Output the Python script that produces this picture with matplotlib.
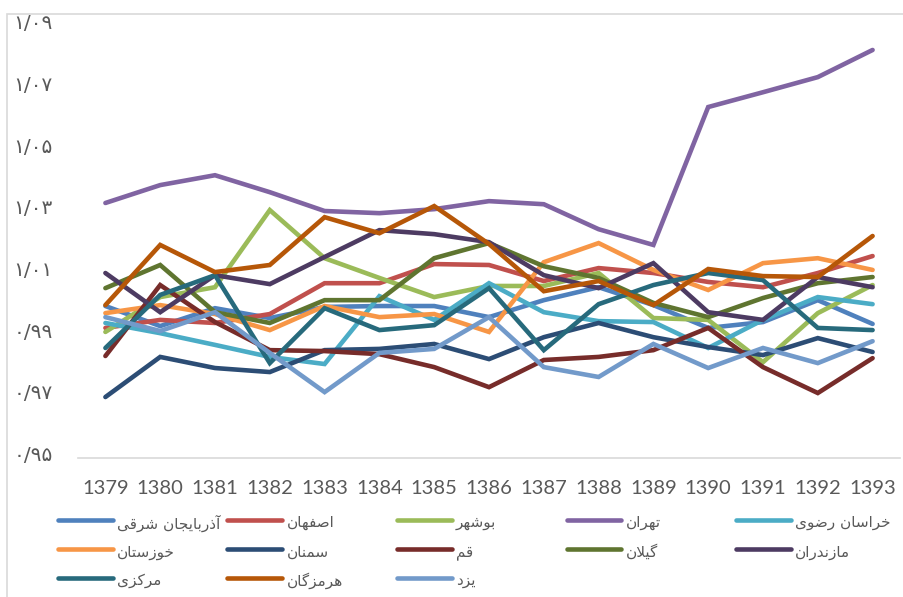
import matplotlib
matplotlib.use("Agg")
import matplotlib.pyplot as plt
import matplotlib.transforms as mtransforms
from matplotlib.lines import Line2D
from matplotlib.patches import Rectangle
from matplotlib import font_manager
from matplotlib.ft2font import FT2Font

# ---------------- data ----------------
years = ["1379", "1380", "1381", "1382", "1383", "1384", "1385", "1386",
         "1387", "1388", "1389", "1390", "1391", "1392", "1393"]

azarbaijan_sharghi = [0.9991, 0.9926, 0.9984, 0.9952, 0.9988, 0.9991, 0.9991, 0.9955,
                      1.0010, 1.0052, 0.9994, 0.9920, 0.9939, 1.0010, 0.9933]
esfahan = [0.9920, 0.9946, 0.9936, 0.9965, 1.0065, 1.0065, 1.0127, 1.0124,
           1.0072, 1.0114, 1.0098, 1.0069, 1.0052, 1.0098, 1.0153]
bushehr = [0.9907, 1.0020, 1.0052, 1.0302, 1.0146, 1.0082, 1.0020, 1.0056,
           1.0056, 1.0098, 0.9952, 0.9946, 0.9809, 0.9968, 1.0059]
tehran = [1.0325, 1.0383, 1.0415, 1.0360, 1.0299, 1.0292, 1.0305, 1.0331,
          1.0321, 1.0240, 1.0189, 1.0636, 1.0684, 1.0733, 1.0821]
khorasan_razavi = [0.9936, 0.9903, 0.9865, 0.9826, 0.9803, 1.0023, 0.9946, 1.0065,
                   0.9971, 0.9942, 0.9939, 0.9855, 0.9946, 1.0020, 0.9997]
khuzestan = [0.9968, 0.9994, 0.9965, 0.9913, 0.9991, 0.9955, 0.9965, 0.9907,
             1.0133, 1.0195, 1.0108, 1.0043, 1.0130, 1.0146, 1.0108]
semnan = [0.9696, 0.9826, 0.9790, 0.9777, 0.9848, 0.9852, 0.9868, 0.9819,
          0.9890, 0.9936, 0.9890, 0.9858, 0.9832, 0.9887, 0.9842]
qom = [0.9829, 1.0059, 0.9939, 0.9848, 0.9845, 0.9835, 0.9793, 0.9728,
       0.9816, 0.9826, 0.9848, 0.9920, 0.9793, 0.9709, 0.9822]
gilan = [1.0049, 1.0124, 0.9971, 0.9936, 1.0010, 1.0010, 1.0146, 1.0195,
         1.0120, 1.0082, 1.0001, 0.9955, 1.0017, 1.0065, 1.0085]
mazandaran = [1.0098, 0.9971, 1.0091, 1.0062, 1.0150, 1.0237, 1.0224, 1.0198,
              1.0091, 1.0049, 1.0130, 0.9971, 0.9946, 1.0085, 1.0052]
markazi = [0.9855, 1.0027, 1.0091, 0.9806, 0.9984, 0.9913, 0.9929, 1.0049,
           0.9848, 0.9997, 1.0059, 1.0098, 1.0075, 0.9920, 0.9913]
hormozgan = [0.9994, 1.0189, 1.0101, 1.0124, 1.0279, 1.0227, 1.0315, 1.0192,
             1.0039, 1.0072, 0.9994, 1.0111, 1.0088, 1.0085, 1.0218]
yazd = [0.9955, 0.9910, 0.9971, 0.9839, 0.9712, 0.9839, 0.9852, 0.9955,
        0.9793, 0.9761, 0.9868, 0.9790, 0.9855, 0.9806, 0.9877]

series_names = ["آذربایجان شرقی", "اصفهان", "بوشهر", "تهران", "خراسان رضوی",
                "خوزستان", "سمنان", "قم", "گیلان", "مازندران",
                "مرکزی", "هرمزگان", "یزد"]
series_values = [azarbaijan_sharghi, esfahan, bushehr, tehran, khorasan_razavi,
                 khuzestan, semnan, qom, gilan, mazandaran,
                 markazi, hormozgan, yazd]
series_colors = ["#4F81BD", "#C0504D", "#9BBB59", "#8064A2", "#4BACC6",
                 "#F79646", "#2C4D75", "#772C2A", "#5F7530", "#4D3B62",
                 "#276A7C", "#B65708", "#729ACA"]

y_ticks = [0.95, 0.97, 0.99, 1.01, 1.03, 1.05, 1.07, 1.09]
y_tick_labels = ["۰/۹۵", "۰/۹۷", "۰/۹۹", "۱/۰۱", "۱/۰۳", "۱/۰۵", "۱/۰۷", "۱/۰۹"]

# ---------------- simple Arabic/Persian shaping ----------------
FORMS = {
    '\u0622': ('\uFE81', '\uFE82', None, None),
    '\u0627': ('\uFE8D', '\uFE8E', None, None),
    '\u0628': ('\uFE8F', '\uFE90', '\uFE91', '\uFE92'),
    '\u062A': ('\uFE95', '\uFE96', '\uFE97', '\uFE98'),
    '\u062C': ('\uFE9D', '\uFE9E', '\uFE9F', '\uFEA0'),
    '\u062E': ('\uFEA5', '\uFEA6', '\uFEA7', '\uFEA8'),
    '\u062F': ('\uFEA9', '\uFEAA', None, None),
    '\u0630': ('\uFEAB', '\uFEAC', None, None),
    '\u0631': ('\uFEAD', '\uFEAE', None, None),
    '\u0632': ('\uFEAF', '\uFEB0', None, None),
    '\u0633': ('\uFEB1', '\uFEB2', '\uFEB3', '\uFEB4'),
    '\u0634': ('\uFEB5', '\uFEB6', '\uFEB7', '\uFEB8'),
    '\u0635': ('\uFEB9', '\uFEBA', '\uFEBB', '\uFEBC'),
    '\u0636': ('\uFEBD', '\uFEBE', '\uFEBF', '\uFEC0'),
    '\u0641': ('\uFED1', '\uFED2', '\uFED3', '\uFED4'),
    '\u0642': ('\uFED5', '\uFED6', '\uFED7', '\uFED8'),
    '\u0644': ('\uFEDD', '\uFEDE', '\uFEDF', '\uFEE0'),
    '\u0645': ('\uFEE1', '\uFEE2', '\uFEE3', '\uFEE4'),
    '\u0646': ('\uFEE5', '\uFEE6', '\uFEE7', '\uFEE8'),
    '\u0647': ('\uFEE9', '\uFEEA', '\uFEEB', '\uFEEC'),
    '\u0648': ('\uFEED', '\uFEEE', None, None),
    '\u06A9': ('\uFB8E', '\uFB8F', '\uFB90', '\uFB91'),
    '\u06AF': ('\uFB92', '\uFB93', '\uFB94', '\uFB95'),
    '\u06CC': ('\uFBFC', '\uFBFD', '\uFBFE', '\uFBFF'),
}
LAM_ALEF = {'\u0627': ('\uFEFB', '\uFEFC'), '\u0622': ('\uFEF5', '\uFEF6')}


def shape_rtl(text):
    ch = list(text)
    out = []
    i = 0
    while i < len(ch):
        c = ch[i]
        if c not in FORMS:
            out.append(c)
            i += 1
            continue
        prev = ch[i - 1] if i > 0 else None
        joins_prev = prev in FORMS and FORMS[prev][2] is not None
        if c == '\u0644' and i + 1 < len(ch) and ch[i + 1] in LAM_ALEF:
            out.append(LAM_ALEF[ch[i + 1]][1 if joins_prev else 0])
            i += 2
            continue
        nxt = ch[i + 1] if i + 1 < len(ch) else None
        joins_next = FORMS[c][2] is not None and nxt in FORMS
        iso, fin, ini, med = FORMS[c]
        if joins_prev and joins_next:
            out.append(med)
        elif joins_prev:
            out.append(fin)
        elif joins_next:
            out.append(ini)
        else:
            out.append(iso)
        i += 1
    return ''.join(reversed(out))


try:
    cmap = FT2Font(font_manager.findfont("DejaVu Sans")).get_charmap()
    needed = [ord(v) for forms in FORMS.values() for v in forms if v] + [0xFEFC, 0xFEFB]
    can_shape = all(n in cmap for n in needed)
except Exception:
    can_shape = False

legend_labels = [shape_rtl(n) if can_shape else n for n in series_names]

# ---------------- figure ----------------
plt.rcParams['font.family'] = ['Lato', 'DejaVu Sans']
W, H = 904, 597
fig = plt.figure(figsize=(W / 100, H / 100), dpi=100)
fig.patch.set_facecolor("white")

ax_left, ax_right, ax_top, ax_bottom = 78, 900, 25.6, 457.5
ax = fig.add_axes([ax_left / W, 1 - ax_bottom / H,
                   (ax_right - ax_left) / W, (ax_bottom - ax_top) / H])

x = list(range(len(years)))
for name, vals, col in zip(series_names, series_values, series_colors):
    ax.plot(x, vals, color=col, lw=3.3, solid_capstyle="round",
            solid_joinstyle="miter", label=name)

ax.set_xlim(-0.5, len(years) - 0.5)
ax.set_ylim(0.95, 1.09)
ax.set_xticks(x)
ax.set_xticklabels(years)
ax.set_yticks(y_ticks)
ax.set_yticklabels(y_tick_labels, family=['DejaVu Sans'])

for side in ["top", "right", "left"]:
    ax.spines[side].set_visible(False)
ax.spines["bottom"].set_color("#D9D9D9")
ax.spines["bottom"].set_linewidth(1.2)
ax.tick_params(axis="both", length=0, colors="#595959")
ax.tick_params(axis="x", labelsize=14.5, pad=16)
ax.tick_params(axis="y", labelsize=14.5, pad=18)

# nudge y labels up slightly, as in the reference
offset = mtransforms.ScaledTranslation(0, 4 / 100, fig.dpi_scale_trans)
for lbl in ax.get_yticklabels():
    lbl.set_transform(lbl.get_transform() + offset)

# chart-area border
fig.add_artist(Rectangle((7 / W, -0.05), 1.1, 1 - 14 / H + 0.05,
                         transform=fig.transFigure, fill=False,
                         edgecolor="#D9D9D9", lw=1.2, clip_on=False))

# legend (Excel-like evenly spaced grid, 5 columns)
col_x = [58, 227.5, 397, 566.5, 736]
row_y = [520, 549, 578]
for k, (lab, col) in enumerate(zip(legend_labels, series_colors)):
    r, c = divmod(k, 5)
    x0 = col_x[c]
    y0 = row_y[r]
    fig.add_artist(Line2D([x0 / W, (x0 + 55) / W], [1 - y0 / H, 1 - y0 / H],
                          transform=fig.transFigure, color=col, lw=3.3,
                          solid_capstyle="round"))
    fig.text((x0 + 59) / W, 1 - (y0 + 3) / H, lab, fontsize=11,
             color="#595959", ha="left", va="center", family=['DejaVu Sans'])

fig.savefig("out.png", dpi=100, facecolor="white")
